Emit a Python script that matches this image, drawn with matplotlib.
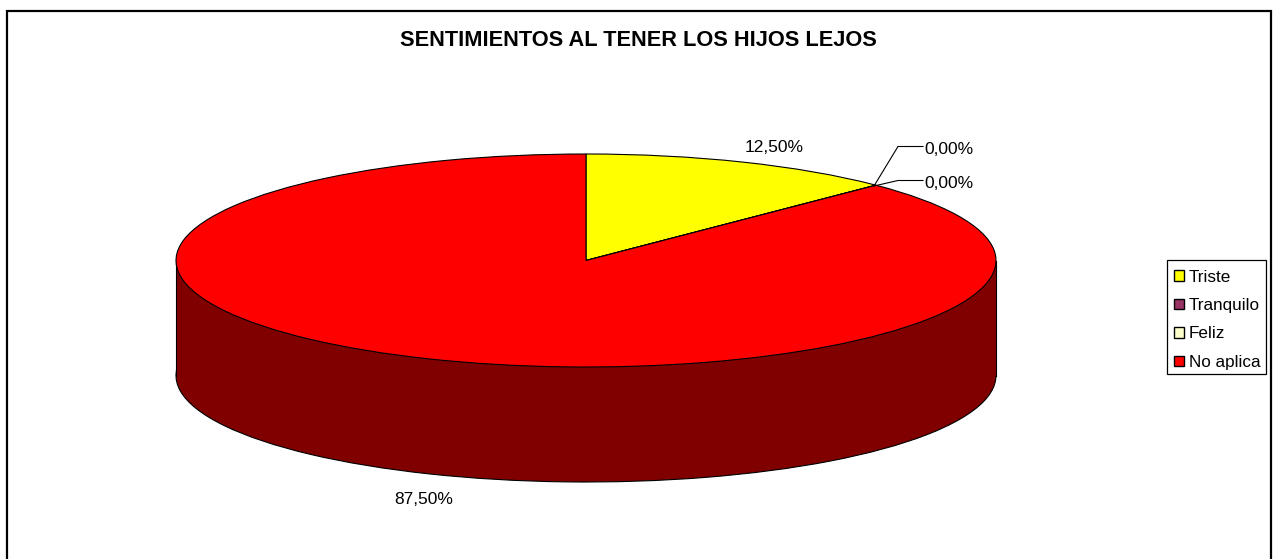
import matplotlib
matplotlib.use("Agg")
import matplotlib.pyplot as plt
from matplotlib.patches import Patch, Rectangle

plt.rcParams['font.family'] = ['Liberation Sans', 'DejaVu Sans']

title = "SENTIMIENTOS AL TENER LOS HIJOS LEJOS"
categories = ["Triste", "Tranquilo", "Feliz", "No aplica"]
values = [12.5, 0.0, 0.0, 87.5]
colors = ["#FFFF00", "#993366", "#FFFFCC", "#FF0000"]
wall_colors = ["#808000", "#4D1933", "#808066", "#800000"]

W, H = 1274, 559
fig = plt.figure(figsize=(W / 100, H / 100), dpi=100, facecolor="white")

# pixel overlay
ov = fig.add_axes([0, 0, 1, 1], zorder=3)
ov.set_xlim(0, W)
ov.set_ylim(H, 0)
ov.axis("off")
ov.patch.set_alpha(0)

# outer frame (bottom edge runs off the image)
bg = fig.add_axes([0, 0, 1, 1], zorder=0)
bg.set_xlim(0, W)
bg.set_ylim(H, 0)
bg.axis("off")
bg.add_patch(Rectangle((6.5, 10.5), 1264, 560, fc="white", ec="black", lw=1.6, clip_on=False))

# squashed pie axes
px_rx, px_ry, px_depth = 410, 106.5, 115
cx, cy = 586, 260.5
depth = px_depth / px_ry
left, right = cx - px_rx, cx + px_rx
top, bottom = cy - px_ry, cy + px_ry + px_depth
ax = fig.add_axes([left / W, 1 - bottom / H, (right - left) / W, (bottom - top) / H], zorder=2)

edge = dict(edgecolor="black", linewidth=0.8)
ax.pie(values, colors=wall_colors, startangle=90, counterclock=False,
       center=(0, -depth), radius=1, wedgeprops=edge)
ax.add_patch(Rectangle((-1, -depth), 2, depth, fc=wall_colors[3], ec="none", zorder=5))
ax.plot([-1, -1], [-depth, 0], color="black", lw=0.8, zorder=6, clip_on=False)
ax.plot([1, 1], [-depth, 0], color="black", lw=0.8, zorder=6, clip_on=False)
wedges, _ = ax.pie(values, colors=colors, startangle=90, counterclock=False,
                   center=(0, 0), radius=1, wedgeprops=edge)
for w in wedges:
    w.set_zorder(7)
    w.set_clip_on(False)
ax.set_aspect("auto")
ax.set_xlim(-1, 1)
ax.set_ylim(-1 - depth, 1)
ax.axis("off")


def fmt(v):
    return f"{v:.2f}".replace(".", ",") + "%"


fs = 12.5
ov.text(638, 41, title, ha="center", va="center", fontsize=15.7, fontweight="bold", color="black")
ov.text(774, 147, fmt(values[0]), ha="center", va="center", fontsize=fs)
ov.text(949, 149, fmt(values[1]), ha="center", va="center", fontsize=fs)
ov.text(949, 183, fmt(values[2]), ha="center", va="center", fontsize=fs)
ov.text(424, 499, fmt(values[3]), ha="center", va="center", fontsize=fs)
ov.plot([874, 898, 923], [186, 146.5, 146.5], color="black", lw=0.8)
ov.plot([874, 898, 923], [186, 180.5, 180.5], color="black", lw=0.8)

# legend frame, sized to the reference box
ov.add_patch(Rectangle((1167, 260), 99, 114, fc="white", ec="black", lw=0.9, zorder=4))

handles = [Patch(facecolor=c, edgecolor="black", linewidth=1.0) for c in colors]
leg = fig.legend(handles, categories, loc="upper left",
                 bbox_to_anchor=(1174 / W, 1 - 269.5 / H), bbox_transform=fig.transFigure,
                 fontsize=12.3, frameon=False,
                 borderaxespad=0, borderpad=0, labelspacing=0.79, handlelength=0.585,
                 handleheight=0.585, handletextpad=0.3)
leg.set_zorder(5)

fig.savefig("out.png", dpi=100)
